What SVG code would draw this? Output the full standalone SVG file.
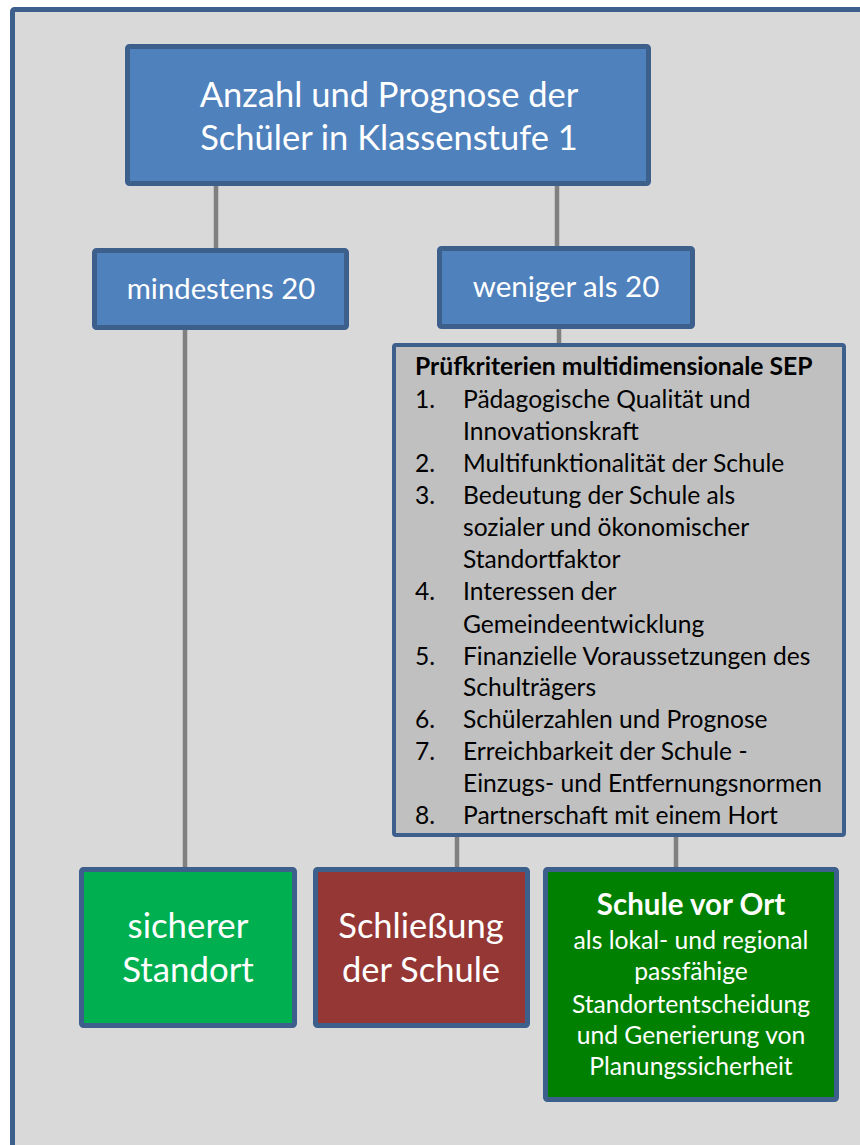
<svg xmlns="http://www.w3.org/2000/svg" width="860" height="1145" viewBox="0 0 860 1145">
<style>
.frame{fill:#d9d9d9;stroke:#3c5f8c;stroke-width:5}
.box{stroke:#3c5f8c;stroke-width:5}
.blue{fill:#4f81bd}
.grey{fill:#c0c0c0;stroke:#3c5f8c;stroke-width:4}
.conn{stroke:#808080;stroke-width:4.5;fill:none}
text{font-family:Lato,"Open Sans","DejaVu Sans",sans-serif}
.w{fill:#ffffff}
.k{fill:#000000}
</style>
<rect class="frame" x="12.5" y="9.5" width="870" height="1160" rx="2"/>
<g id="connectors">
<line class="conn" x1="216" y1="186" x2="216" y2="248"/>
<line class="conn" x1="557" y1="186" x2="557" y2="246"/>
<line class="conn" x1="185" y1="330" x2="185" y2="867"/>
<line class="conn" x1="559" y1="329" x2="559" y2="343"/>
<line class="conn" x1="457" y1="837" x2="457" y2="867"/>
<line class="conn" x1="676" y1="837" x2="676" y2="867"/>
</g>
<g id="top">
<rect class="box blue" x="127.5" y="46.5" width="521" height="137" rx="2"/>
<text class="w" x="389" y="107" font-size="34.5" text-anchor="middle">Anzahl und Prognose der</text>
<text class="w" x="389" y="150" font-size="34.5" text-anchor="middle">Schüler in Klassenstufe 1</text>
</g>
<g id="mindestens">
<rect class="box blue" x="94.5" y="250.5" width="252" height="77" rx="2"/>
<text class="w" x="221" y="299" font-size="29.3" text-anchor="middle">mindestens 20</text>
</g>
<g id="weniger">
<rect class="box blue" x="439.5" y="248.5" width="253" height="78" rx="2"/>
<text class="w" x="566" y="297" font-size="29.5" text-anchor="middle">weniger als 20</text>
</g>
<g id="kriterien">
<rect class="grey" x="394" y="345" width="450" height="490" rx="2"/>
<text class="k" x="415" y="375" font-size="24.7" font-weight="bold">Prüfkriterien multidimensionale SEP</text>
<g class="k" font-size="24.6">
<text x="415" y="408">1.</text><text x="463" y="408">Pädagogische Qualität und</text>
<text x="463" y="440">Innovationskraft</text>
<text x="415" y="472">2.</text><text x="463" y="472">Multifunktionalität der Schule</text>
<text x="415" y="504">3.</text><text x="463" y="504">Bedeutung der Schule als</text>
<text x="463" y="536">sozialer und ökonomischer</text>
<text x="463" y="568">Standortfaktor</text>
<text x="415" y="600">4.</text><text x="463" y="600">Interessen der</text>
<text x="463" y="633">Gemeindeentwicklung</text>
<text x="415" y="665">5.</text><text x="463" y="665">Finanzielle Voraussetzungen des</text>
<text x="463" y="696">Schulträgers</text>
<text x="415" y="728">6.</text><text x="463" y="728">Schülerzahlen und Prognose</text>
<text x="415" y="760">7.</text><text x="463" y="760">Erreichbarkeit der Schule -</text>
<text x="463" y="792">Einzugs- und Entfernungsnormen</text>
<text x="415" y="824">8.</text><text x="463" y="824">Partnerschaft mit einem Hort</text>
</g>
</g>
<g id="sicher">
<rect class="box" fill="#00b050" x="81.5" y="869.5" width="213" height="156" rx="2"/>
<text class="w" x="188" y="938" font-size="34.8" text-anchor="middle">sicherer</text>
<text class="w" x="188" y="982" font-size="34.8" text-anchor="middle">Standort</text>
</g>
<g id="schliessung">
<rect class="box" fill="#953735" x="315.5" y="869.5" width="212" height="156" rx="2"/>
<text class="w" x="421" y="938" font-size="34.5" text-anchor="middle">Schließung</text>
<text class="w" x="421" y="982" font-size="34.5" text-anchor="middle">der Schule</text>
</g>
<g id="vorort">
<rect class="box" fill="#008000" x="545.5" y="869.5" width="291" height="230" rx="2"/>
<text class="w" x="691" y="915" font-size="29.5" font-weight="bold" text-anchor="middle">Schule vor Ort</text>
<g font-size="24.7" text-anchor="middle" class="w">
<text x="691" y="949">als lokal- und regional</text>
<text x="691" y="980">passfähige</text>
<text x="691" y="1013">Standortentscheidung</text>
<text x="691" y="1044">und Generierung von</text>
<text x="691" y="1075">Planungssicherheit</text>
</g>
</g>
</svg>
